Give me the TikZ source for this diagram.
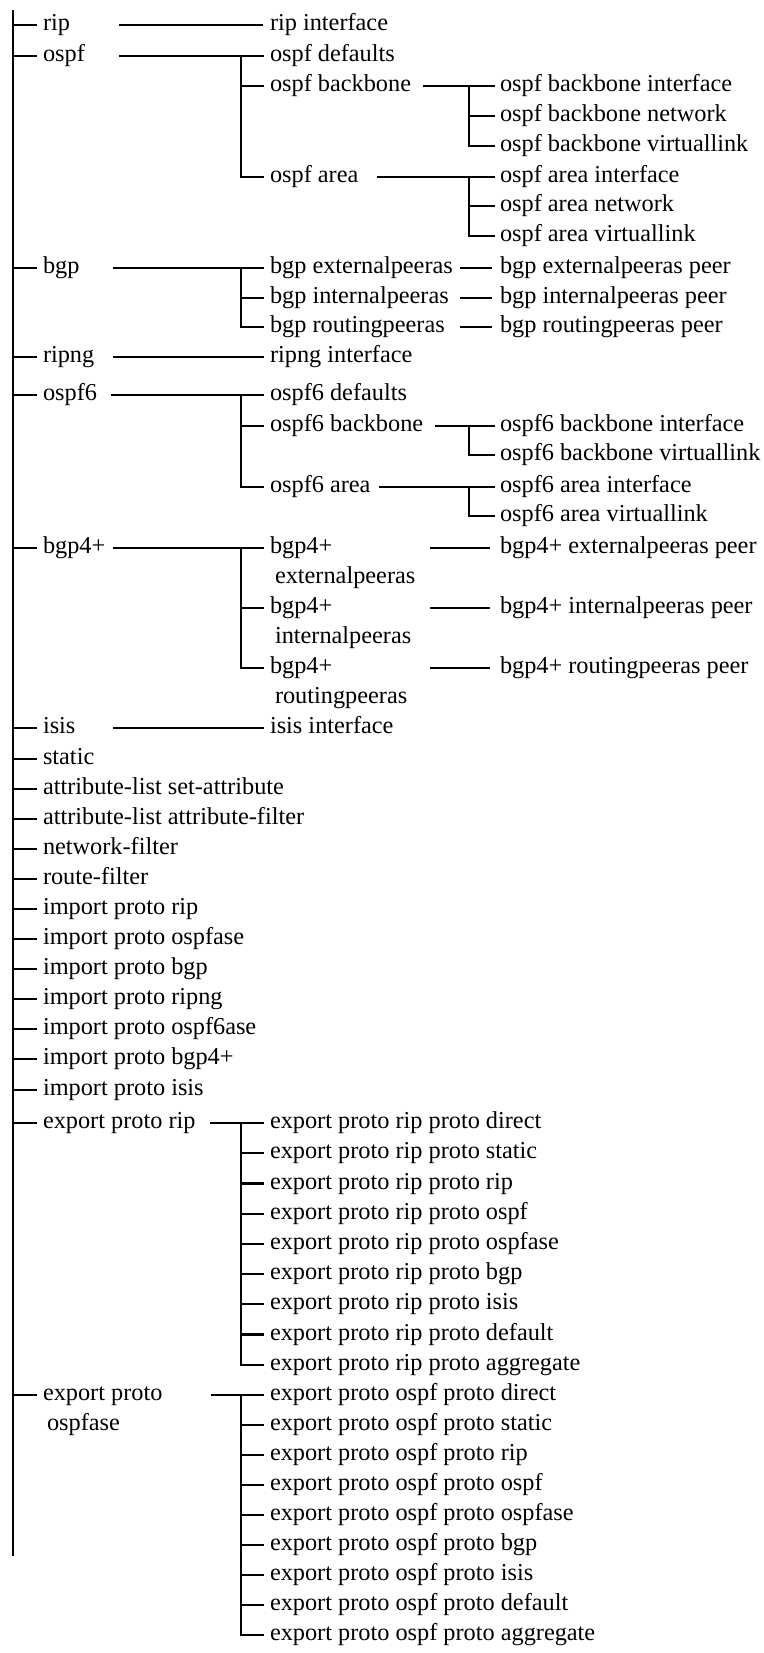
\documentclass[tikz,border=0pt]{standalone}
\usepackage{fontspec}
\setmainfont{Liberation Serif}
\begin{document}
\begin{tikzpicture}[x=1pt,y=-1pt,
  lbl/.style={anchor=west, inner sep=0pt, outer sep=0pt,
              text height=16.5pt, text depth=5.3pt,
              font=\fontsize{24.3pt}{30pt}\selectfont},
  wire/.style={line width=2.2pt, line join=miter},
]
\useasboundingbox (0,0) rectangle (763,1653);

% bus columns
\coordinate (bartop) at (13,10);
\coordinate (barbot) at (13,1556);
\coordinate (busA) at (241,0);
\coordinate (busB) at (469,0);

% ---------- first level ----------
\node[lbl] (rip)        at (43,25)   {rip};
\node[lbl] (ospf)       at (43,56)   {ospf};
\node[lbl] (bgp)        at (43,268)  {bgp};
\node[lbl] (ripng)      at (43,357)  {ripng};
\node[lbl] (ospfsix)    at (43,395)  {ospf6};
\node[lbl] (bgpfour)    at (43,548)  {bgp4+};
\node[lbl] (isis)       at (43,728)  {isis};
\node[lbl] (static)     at (43,759)  {static};
\node[lbl] (attrset)    at (43,789)  {attribute-list set-attribute};
\node[lbl] (attrfilt)   at (43,819)  {attribute-list attribute-filter};
\node[lbl] (netfilt)    at (43,849)  {network-filter};
\node[lbl] (routefilt)  at (43,879)  {route-filter};
\node[lbl] (imprip)     at (43,909)  {import proto rip};
\node[lbl] (impospf)    at (43,939)  {import proto ospfase};
\node[lbl] (impbgp)     at (43,969)  {import proto bgp};
\node[lbl] (impripng)   at (43,999)  {import proto ripng};
\node[lbl] (impospfsix) at (43,1029) {import proto ospf6ase};
\node[lbl] (impbgpfour) at (43,1059) {import proto bgp4+};
\node[lbl] (impisis)    at (43,1090) {import proto isis};
\node[lbl] (exprip)     at (43,1123) {export proto rip};
\node[lbl] (expospf)    at (43,1395) {export proto};
\node[lbl] (expospfB)   at (47,1425) {ospfase};

% ---------- second level ----------
\node[lbl] (ripif)   at (270,25)  {rip interface};
\node[lbl] (ospfdef) at (270,56)  {ospf defaults};
\node[lbl] (ospfbb)  at (270,86)  {ospf backbone};
\node[lbl] (ospfar)  at (270,177) {ospf area};
\node[lbl] (bgpext)  at (270,268) {bgp externalpeeras};
\node[lbl] (bgpint)  at (270,298) {bgp internalpeeras};
\node[lbl] (bgprout) at (270,327) {bgp routingpeeras};
\node[lbl] (ripngif) at (270,357) {ripng interface};
\node[lbl] (osixdef) at (270,395) {ospf6 defaults};
\node[lbl] (osixbb)  at (270,426) {ospf6 backbone};
\node[lbl] (osixar)  at (270,487) {ospf6 area};
\node[lbl] (bfext)   at (270,548) {bgp4+};
\node[lbl] (bfextB)  at (275,578) {externalpeeras};
\node[lbl] (bfint)   at (270,608) {bgp4+};
\node[lbl] (bfintB)  at (275,638) {internalpeeras};
\node[lbl] (bfrout)  at (270,668) {bgp4+};
\node[lbl] (bfroutB) at (275,698) {routingpeeras};
\node[lbl] (isisif)  at (270,728) {isis interface};

\foreach \s [count=\k from 0] in {direct,static,rip,ospf,ospfase,bgp,isis,default,aggregate}
  \node[lbl] (er\k) at (270,1123+30.2*\k) {export proto rip proto \s};
\foreach \s [count=\k from 0] in {direct,static,rip,ospf,ospfase,bgp,isis,default,aggregate}
  \node[lbl] (eo\k) at (270,1395+30*\k) {export proto ospf proto \s};

% ---------- third level ----------
\node[lbl] (obbif)    at (500,86)  {ospf backbone interface};
\node[lbl] (obbnet)   at (500,116) {ospf backbone network};
\node[lbl] (obbvl)    at (500,146) {ospf backbone virtuallink};
\node[lbl] (oarif)    at (500,177) {ospf area interface};
\node[lbl] (oarnet)   at (500,206) {ospf area network};
\node[lbl] (oarvl)    at (500,236) {ospf area virtuallink};
\node[lbl] (bgpextp)  at (500,268) {bgp externalpeeras peer};
\node[lbl] (bgpintp)  at (500,298) {bgp internalpeeras peer};
\node[lbl] (bgproutp) at (500,327) {bgp routingpeeras peer};
\node[lbl] (osbbif)   at (500,426) {ospf6 backbone interface};
\node[lbl] (osbbvl)   at (500,455) {ospf6 backbone virtuallink};
\node[lbl] (osarif)   at (500,487) {ospf6 area interface};
\node[lbl] (osarvl)   at (500,516) {ospf6 area virtuallink};
\node[lbl] (bfextp)   at (500,548) {bgp4+ externalpeeras peer};
\node[lbl] (bfintp)   at (500,608) {bgp4+ internalpeeras peer};
\node[lbl] (bfroutp)  at (500,668) {bgp4+ routingpeeras peer};

% ---------- connectors ----------
\begin{scope}[wire]
  % main trunk and its ticks
  \draw (bartop) -- (barbot);
  \foreach \n in {rip,ospf,bgp,ripng,ospfsix,bgpfour,isis,static,attrset,attrfilt,
                  netfilt,routefilt,imprip,impospf,impbgp,impripng,impospfsix,
                  impbgpfour,impisis,exprip,expospf}
    \draw (bartop |- \n.west) -- ([xshift=-6pt]\n.west);

  % single children
  \draw (119,0 |- rip.west)   -- ([xshift=-7pt]ripif.west);
  \draw (113,0 |- ripng.west) -- ([xshift=-6pt]ripngif.west);
  \draw (113,0 |- isis.west)  -- ([xshift=-6pt]isisif.west);

  % ospf
  \draw (119,0 |- ospf.west) -- ([xshift=-6pt]ospfdef.west);
  \draw (busA |- ospfdef.west) |- ([xshift=-6pt]ospfar.west);
  \draw (busA |- ospfbb.west) -- ([xshift=-6pt]ospfbb.west);
  \draw (423,0 |- ospfbb.west) -- ([xshift=-5pt]obbif.west);
  \draw (busB |- obbif.west) |- ([xshift=-5pt]obbvl.west);
  \draw (busB |- obbnet.west) -- ([xshift=-5pt]obbnet.west);
  \draw (377,0 |- ospfar.west) -- ([xshift=-5pt]oarif.west);
  \draw (busB |- oarif.west) |- ([xshift=-5pt]oarvl.west);
  \draw (busB |- oarnet.west) -- ([xshift=-5pt]oarnet.west);

  % bgp
  \draw (113,0 |- bgp.west) -- ([xshift=-6pt]bgpext.west);
  \draw (busA |- bgpext.west) |- ([xshift=-6pt]bgprout.west);
  \draw (busA |- bgpint.west) -- ([xshift=-6pt]bgpint.west);
  \foreach \p/\c in {bgpext/bgpextp,bgpint/bgpintp,bgprout/bgproutp}
    \draw (460,0 |- \p.west) -- ([xshift=-8pt]\c.west);

  % ospf6
  \draw (111,0 |- ospfsix.west) -- ([xshift=-6pt]osixdef.west);
  \draw (busA |- osixdef.west) |- ([xshift=-6pt]osixar.west);
  \draw (busA |- osixbb.west) -- ([xshift=-6pt]osixbb.west);
  \draw (435,0 |- osixbb.west) -- ([xshift=-5pt]osbbif.west);
  \draw (busB |- osbbif.west) |- ([xshift=-5pt]osbbvl.west);
  \draw (379,0 |- osixar.west) -- ([xshift=-5pt]osarif.west);
  \draw (busB |- osarif.west) |- ([xshift=-5pt]osarvl.west);

  % bgp4+
  \draw (113,0 |- bgpfour.west) -- ([xshift=-6pt]bfext.west);
  \draw (busA |- bfext.west) |- ([xshift=-6pt]bfrout.west);
  \draw (busA |- bfint.west) -- ([xshift=-6pt]bfint.west);
  \foreach \p/\c in {bfext/bfextp,bfint/bfintp,bfrout/bfroutp}
    \draw (430,0 |- \p.west) -- ([xshift=-10pt]\c.west);

  % export proto rip
  \draw (210,0 |- exprip.west) -- ([xshift=-6pt]er0.west);
  \draw (busA |- er0.west) |- ([xshift=-6pt]er8.west);
  \foreach \k in {1,...,7}
    \draw (busA |- er\k.west) -- ([xshift=-6pt]er\k.west);

  % export proto ospfase
  \draw (211,0 |- expospf.west) -- ([xshift=-6pt]eo0.west);
  \draw (busA |- eo0.west) |- ([xshift=-6pt]eo8.west);
  \foreach \k in {1,...,7}
    \draw (busA |- eo\k.west) -- ([xshift=-6pt]eo\k.west);
\end{scope}
\end{tikzpicture}
\end{document}
